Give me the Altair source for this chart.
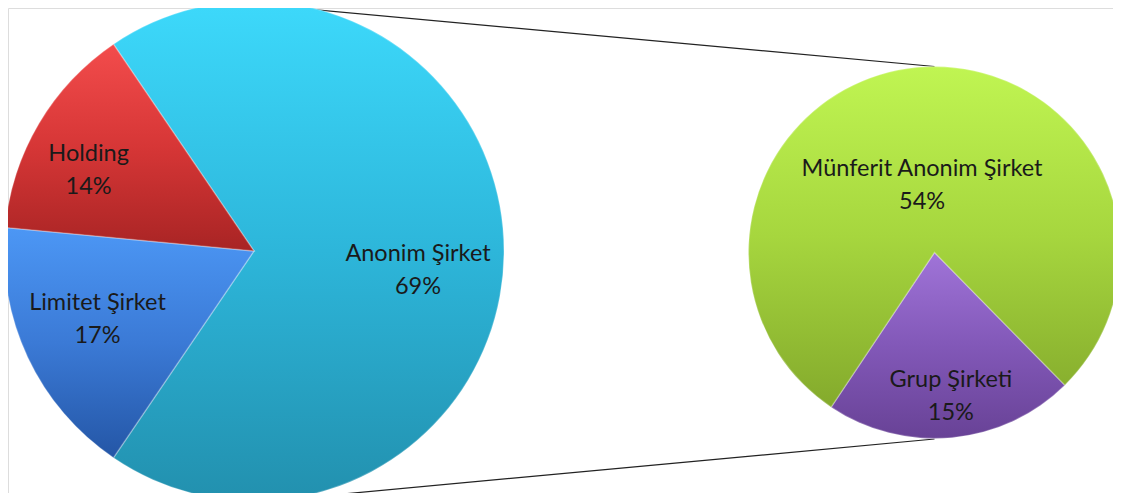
import math
import altair as alt
import pandas as pd

# ---- data ----
left_names = ["Anonim Şirket", "Limitet Şirket", "Holding"]
left_values = [69, 17, 14]
right_names = ["Grup Şirketi", "Münferit Anonim Şirket"]
right_values = [15, 54]

FONT = "Lato"
TEXT_COLOR = "#1a1a1a"


def grad(c0, c1, c2):
    return alt.LinearGradient(
        gradient="linear", x1=0, y1=0, x2=0, y2=1,
        stops=[alt.GradientStop(color=c0, offset=0),
               alt.GradientStop(color=c1, offset=0.5),
               alt.GradientStop(color=c2, offset=1)],
    )


fills = {
    "Anonim Şirket": grad("#3dd9fb", "#2db6da", "#2290ae"),
    "Limitet Şirket": grad("#4c97f5", "#3b7ad6", "#2456a6"),
    "Holding": grad("#f34c4c", "#d63636", "#a82424"),
    "Grup Şirketi": grad("#a074d8", "#8258b8", "#684296"),
    "Münferit Anonim Şirket": grad("#c0f552", "#a6d63e", "#84aa2c"),
}

# label placement: (radius, dx, dy)
label_pos = {
    "Anonim Şirket": (164, 0, 3),
    "Holding": (184, -7, -3),
    "Limitet Şirket": (173, 0, -22),
    "Münferit Anonim Şirket": (69, -6, -15),
    "Grup Şirketi": (143, 3, -15),
}


def pie(names, values, cx, cy, r, a0):
    df = pd.DataFrame({"name": names, "value": values, "k": list(range(len(names)))})
    total = sum(values)
    scale = alt.Scale(domain=[0, total], range=[a0, a0 + 2 * math.pi])
    base = (
        alt.Chart(df)
        .transform_window(cum="sum(value)", sort=[alt.SortField("k")], frame=[None, 0])
        .transform_calculate(
            start="datum.cum - datum.value",
            mid="datum.cum - datum.value / 2",
            label="datum.name + '\\n' + datum.value + '%'",
        )
    )
    layers = []
    for n in names:
        b = base.transform_filter(alt.datum.name == n)
        layers.append(
            b.mark_arc(outerRadius=r, fill=fills[n], stroke="white",
                       strokeOpacity=0.25, strokeWidth=1.5).encode(
                theta=alt.Theta("start:Q", scale=scale, stack=None),
                theta2="cum:Q",
                x=alt.value(cx), y=alt.value(cy),
            )
        )
    for n in names:
        b = base.transform_filter(alt.datum.name == n)
        rr, dx, dy = label_pos[n]
        layers.append(
            b.mark_text(
                radius=rr, dx=dx, dy=dy, lineBreak="\n", font=FONT, fontSize=23.5,
                lineHeight=33, color=TEXT_COLOR, align="center", baseline="middle",
            ).encode(
                theta=alt.Theta("mid:Q", scale=scale, stack=None),
                text="label:N",
                x=alt.value(cx), y=alt.value(cy),
            )
        )
    return alt.layer(*layers)


# left pie: first slice centred on the right-hand side
a_left = math.pi / 2 - math.pi * left_values[0] / sum(left_values) + 2 * math.pi
left = pie(left_names, left_values, 246, 243, 250, a_left)
right = pie(right_names, right_values, 926.5, 244.5, 186, math.radians(135.5))

one = pd.DataFrame({"a": [0]})
lines = alt.layer(
    alt.Chart(one).mark_rule(color="#222222", strokeWidth=1.2).encode(
        x=alt.value(272), y=alt.value(-1.5), x2=alt.value(926.5), y2=alt.value(58.5)
    ),
    alt.Chart(one).mark_rule(color="#222222", strokeWidth=1.2).encode(
        x=alt.value(265), y=alt.value(492.5), x2=alt.value(926.5), y2=alt.value(431)
    ),
)

chart = (
    alt.layer(lines, left, right)
    .resolve_scale(theta="independent")
    .properties(width=1105, height=485, padding=0, autosize=alt.AutoSizeParams(type="none"))
    .configure_view(strokeWidth=0, stroke=None, fill=None)
    .configure(background="white")
)

chart.save("out.html", embed_options={"renderer": "svg", "actions": False})
